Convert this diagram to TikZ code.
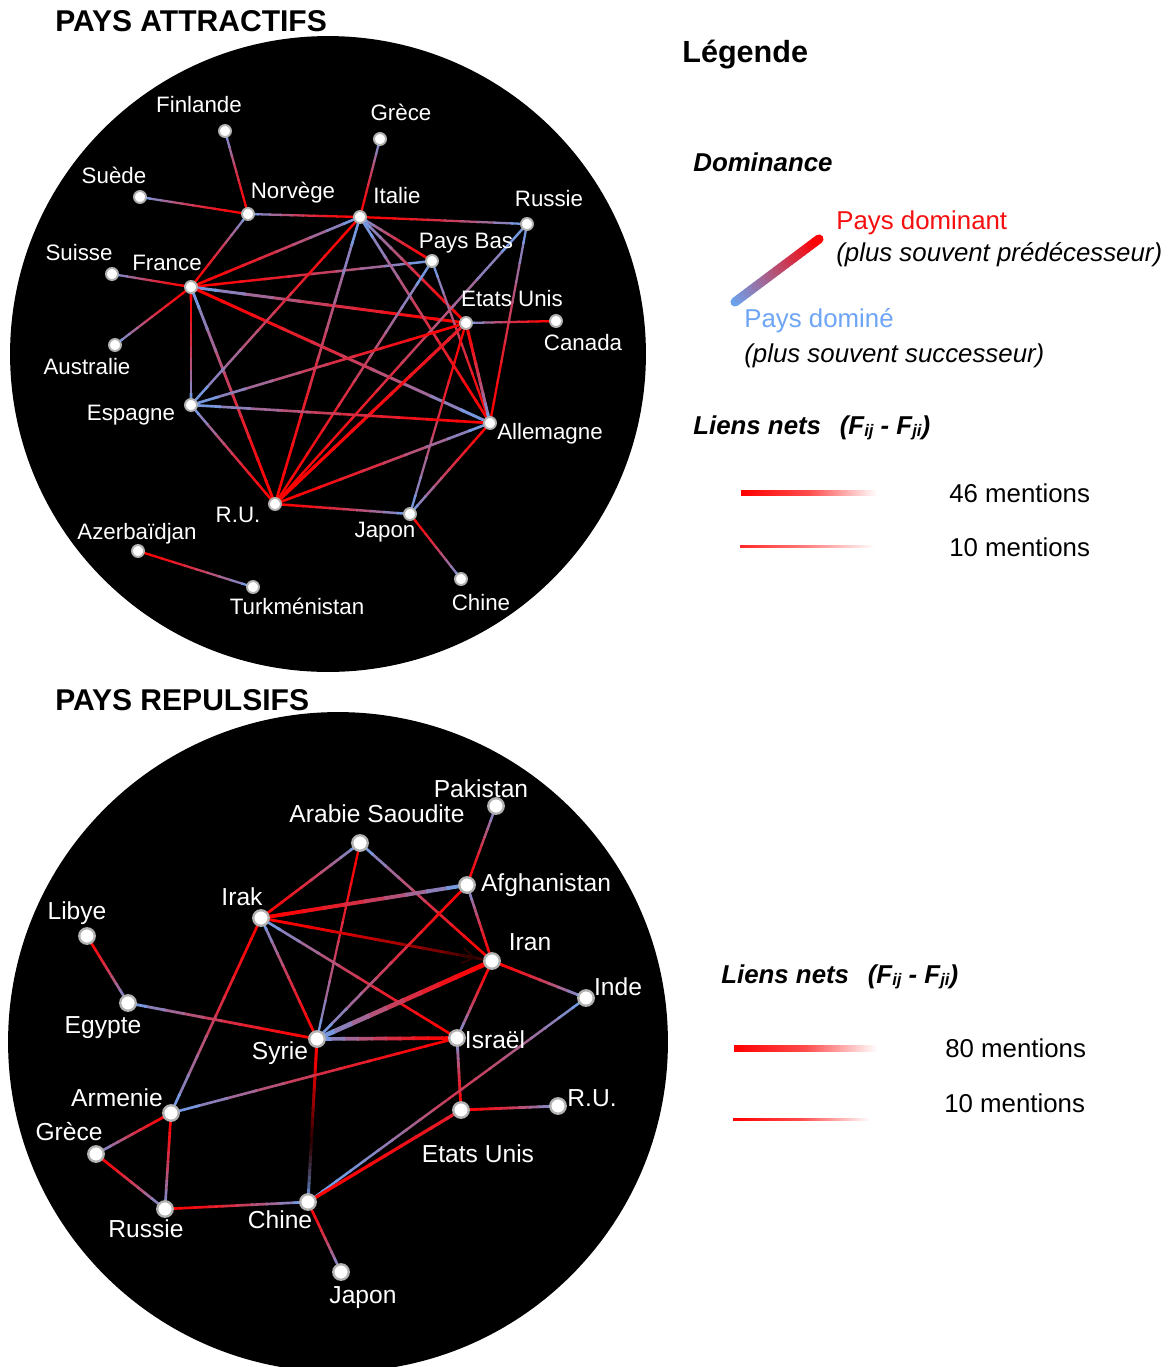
\documentclass[tikz,border=0pt]{standalone}
\usepackage{fontspec}
\setmainfont{Liberation Sans}
\usetikzlibrary{calc,arrows.meta}
\pgfdeclarelayer{back}
\pgfdeclarelayer{edges}
\pgfsetlayers{back,edges,main}
\definecolor{dom}{RGB}{255,0,0}
\definecolor{sub}{RGB}{106,164,240}
\definecolor{legred}{RGB}{245,15,15}
\definecolor{legblue}{RGB}{110,165,245}
\definecolor{darkend}{RGB}{45,0,0}
\colorlet{midrb}{dom!65!sub}
\colorlet{reddish}{dom!80!sub}
% gradient connector: from node #1 to node #2, between fractions #3 and #4, colour #5 -> #6, width #7
\newcommand\gpart[7]{%
  \foreach \k in {0,...,9}{%
    \pgfmathsetmacro\pa{#3+(#4-#3)*\k/10}%
    \pgfmathsetmacro\pb{min(#4,#3+(#4-#3)*(\k+1.15)/10)}%
    \pgfmathtruncatemacro\pc{100*((\k+0.5)/10)^1.6}%
    \draw[line width=#7, color=#6!\pc!#5] ($(#1)!\pa!(#2)$) -- ($(#1)!\pb!(#2)$);
  }}
% dominant node first (red end), dominated second (blue end)
\newcommand\gedge[3]{\gpart{#1}{#2}{0}{1}{dom}{sub}{#3}}
\tikzset{
  pta/.style={circle, fill=white, draw=gray!60, line width=1.1pt, minimum size=0.24cm, inner sep=0pt},
  ptr/.style={circle, fill=white, draw=gray!60, line width=1.3pt, minimum size=0.31cm, inner sep=0pt},
  laba/.style={text=white, font=\fontsize{12.7}{14}\selectfont, inner sep=0pt, anchor=base},
  labr/.style={text=white, font=\fontsize{14}{16}\selectfont, inner sep=0pt, anchor=base},
  ttl/.style={font=\fontsize{17.1}{19}\selectfont\bfseries, inner sep=0pt, anchor=base west},
  legt/.style={font=\fontsize{14.7}{17}\selectfont, inner sep=0pt, anchor=base west},
  legh/.style={font=\fontsize{14.7}{17}\selectfont\bfseries\itshape, inner sep=0pt, anchor=base west},
}
\newcommand\smallidx[1]{\raisebox{-0.2ex}{\fontsize{9.5}{10}\selectfont #1}}
\begin{document}
\begin{tikzpicture}[x=0.02cm,y=-0.02cm]
\useasboundingbox (0,0) rectangle (1168,1367);
\clip (0,0) rectangle (1168,1367);

% ---------- backgrounds ----------
\begin{pgfonlayer}{back}
  \fill[white] (0,0) rectangle (1168,1367);
  \fill[black] (328,354) circle[radius=6.36cm];
  \fill[black] (338,1042) circle[radius=6.6cm];
\end{pgfonlayer}

% ---------- titles ----------
\node[ttl] (t1) at (55,31) {PAYS ATTRACTIFS};
\node[ttl] (t2) at (55,710) {PAYS REPULSIFS};
\node[ttl, font=\fontsize{17.4}{19}\selectfont\bfseries] (tleg) at (682,62) {Légende};

% ---------- top network nodes ----------
\node[pta] (aFi) at (225,131) {};
\node[pta] (aGr) at (380,139) {};
\node[pta] (aSu) at (140,197) {};
\node[pta] (aNo) at (248,214) {};
\node[pta] (aIt) at (360,217) {};
\node[pta] (aRu) at (527,224) {};
\node[pta] (aSi) at (112,274) {};
\node[pta] (aFr) at (191,287) {};
\node[pta] (aPB) at (432,261) {};
\node[pta] (aEU) at (466,323) {};
\node[pta] (aCa) at (556,321) {};
\node[pta] (aAu) at (115,345) {};
\node[pta] (aEs) at (191,405) {};
\node[pta] (aAl) at (490,423) {};
\node[pta] (aRU) at (275,504) {};
\node[pta] (aJa) at (410,514) {};
\node[pta] (aAz) at (138,551) {};
\node[pta] (aTu) at (253,587) {};
\node[pta] (aCh) at (461,579) {};

\node[laba] (laFi) at (199,112) {Finlande};
\node[laba] (laGr) at (401,120) {Grèce};
\node[laba] (laSu) at (114,183) {Suède};
\node[laba] (laNo) at (293,198) {Norvège};
\node[laba] (laIt) at (397,203) {Italie};
\node[laba] (laRu) at (549,206) {Russie};
\node[laba] (laSi) at (79,260) {Suisse};
\node[laba] (laFr) at (167,270) {France};
\node[laba] (laPB) at (466,248) {Pays Bas};
\node[laba] (laEU) at (512,306) {Etats Unis};
\node[laba] (laCa) at (583,350) {Canada};
\node[laba] (laAu) at (87,374) {Australie};
\node[laba] (laEs) at (131,420) {Espagne};
\node[laba] (laAl) at (550,439) {Allemagne};
\node[laba] (laRU) at (238,522) {R.U.};
\node[laba] (laJa) at (385,537) {Japon};
\node[laba] (laAz) at (137,539) {Azerbaïdjan};
\node[laba] (laTu) at (297,614) {Turkménistan};
\node[laba] (laCh) at (481,610) {Chine};

% ---------- bottom network nodes ----------
\node[ptr] (rPk) at (496,806) {};
\node[ptr] (rAS) at (360,843) {};
\node[ptr] (rAf) at (467,885) {};
\node[ptr] (rIk) at (261,918) {};
\node[ptr] (rLi) at (87,936) {};
\node[ptr] (rIr) at (492,961) {};
\node[ptr] (rIn) at (586,998) {};
\node[ptr] (rEg) at (128,1003) {};
\node[ptr] (rSy) at (317,1039) {};
\node[ptr] (rIs) at (457,1038) {};
\node[ptr] (rAr) at (171,1113) {};
\node[ptr] (rRU) at (558,1106) {};
\node[ptr] (rEU) at (461,1110) {};
\node[ptr] (rGr) at (96,1154) {};
\node[ptr] (rRu) at (165,1209) {};
\node[ptr] (rCh) at (308,1202) {};
\node[ptr] (rJa) at (341,1272) {};

\node[labr] (lrPk) at (481,797) {Pakistan};
\node[labr] (lrAS) at (377,822) {Arabie Saoudite};
\node[labr] (lrAf) at (546,891) {Afghanistan};
\node[labr] (lrIk) at (242,905) {Irak};
\node[labr] (lrLi) at (77,919) {Libye};
\node[labr] (lrIr) at (530,950) {Iran};
\node[labr] (lrIn) at (618,995) {Inde};
\node[labr] (lrEg) at (103,1033) {Egypte};
\node[labr] (lrSy) at (280,1059) {Syrie};
\node[labr] (lrIs) at (495,1048) {Israël};
\node[labr] (lrAr) at (117,1106) {Armenie};
\node[labr] (lrRU) at (592,1106) {R.U.};
\node[labr] (lrEU) at (478,1162) {Etats Unis};
\node[labr] (lrGr) at (69,1140) {Grèce};
\node[labr] (lrRu) at (146,1237) {Russie};
\node[labr] (lrCh) at (280,1228) {Chine};
\node[labr] (lrJa) at (363,1303) {Japon};

% ---------- connectors ----------
\begin{pgfonlayer}{edges}
% top
\gedge{aNo}{aFi}{1.3pt}
\gedge{aNo}{aSu}{1.3pt}
\gedge{aIt}{aNo}{1.3pt}
\gedge{aFr}{aNo}{1.3pt}
\gedge{aIt}{aGr}{1.3pt}
\gedge{aIt}{aRu}{1.3pt}
\gedge{aFr}{aSi}{1.3pt}
\gedge{aFr}{aAu}{1.3pt}
\gedge{aFr}{aIt}{1.5pt}
\gedge{aFr}{aPB}{1.4pt}
\gedge{aEU}{aFr}{1.7pt}
\gedge{aFr}{aAl}{1.7pt}
\gedge{aFr}{aEs}{1.6pt}
\gedge{aRU}{aFr}{1.6pt}
\gedge{aPB}{aIt}{1.5pt}
\gedge{aEU}{aIt}{1.6pt}
\gedge{aAl}{aIt}{1.5pt}
\gedge{aRU}{aIt}{1.5pt}
\gedge{aIt}{aEs}{1.4pt}
\gedge{aAl}{aPB}{1.3pt}
\gedge{aRU}{aPB}{1.4pt}
\gedge{aAl}{aRu}{1.3pt}
\gedge{aRU}{aRu}{1.4pt}
\gedge{aCa}{aEU}{1.3pt}
\gedge{aEU}{aEs}{1.5pt}
\gpart{aRU}{aEU}{0}{1}{dom}{reddish}{1.8pt}
\gedge{aEU}{aAl}{1.7pt}
\gedge{aEU}{aJa}{1.3pt}
\gedge{aAl}{aEs}{1.5pt}
\gedge{aRU}{aEs}{1.4pt}
\gedge{aRU}{aAl}{1.5pt}
\gedge{aAl}{aJa}{1.4pt}
\gedge{aRU}{aJa}{1.4pt}
\gedge{aJa}{aCh}{1.3pt}
\gedge{aAz}{aTu}{1.3pt}
% bottom
\gedge{rAf}{rPk}{1.4pt}
\gedge{rIk}{rAS}{1.5pt}
\gedge{rAS}{rSy}{1.3pt}
\gedge{rIr}{rAS}{1.5pt}
\gedge{rIk}{rAf}{2.2pt}
\gpart{rIk}{rIr}{0}{1}{dom}{darkend}{1.6pt}
\draw[-{Straight Barb[length=7pt,width=9pt]}, line width=1pt, darkend] ($(rIk)!0.86!(rIr)$) -- ($(rIk)!0.93!(rIr)$);
\gedge{rSy}{rIk}{1.5pt}
\gedge{rIs}{rIk}{1.5pt}
\gedge{rIk}{rAr}{1.5pt}
\gedge{rIr}{rAf}{1.5pt}
\gedge{rAf}{rSy}{1.5pt}
\gedge{rIr}{rIn}{1.6pt}
\gedge{rIr}{rSy}{2.7pt}
\gedge{rIr}{rIs}{1.5pt}
\gedge{rLi}{rEg}{1.5pt}
\gedge{rSy}{rEg}{1.6pt}
\gedge{rIs}{rSy}{2.1pt}
\gpart{rSy}{rCh}{0}{0.6}{dom}{darkend}{1.7pt}
\gpart{rSy}{rCh}{0.6}{1}{darkend}{sub}{1.7pt}
\gedge{rIs}{rAr}{1.5pt}
\gedge{rEU}{rIs}{1.6pt}
\gpart{rCh}{rIn}{0}{0.5}{sub}{midrb}{1.4pt}
\gpart{rCh}{rIn}{0.5}{1}{midrb}{sub}{1.4pt}
\gedge{rAr}{rGr}{1.5pt}
\gedge{rAr}{rRu}{1.5pt}
\gedge{rGr}{rRu}{1.5pt}
\gedge{rRu}{rCh}{1.5pt}
\gedge{rCh}{rJa}{1.5pt}
\gedge{rEU}{rRU}{1.6pt}
\gpart{rCh}{rEU}{0}{1}{dom}{reddish}{1.8pt}
\end{pgfonlayer}

% ---------- legend (top) ----------
\node[legh] (ldom) at (693,171) {Dominance};
\coordinate (gsub) at (735,302);
\coordinate (gdom) at (819,239);
\foreach \k in {0,...,19}{%
  \pgfmathsetmacro\pa{\k/20}%
  \pgfmathsetmacro\pb{(\k+1)/20}%
  \pgfmathtruncatemacro\pc{5*\k+2}%
  \draw[line width=5.2pt, line cap=round, color=dom!\pc!sub] ($(gsub)!\pa!(gdom)$) -- ($(gsub)!\pb!(gdom)$);
}
\node[legt, text=legred] (ldn) at (836,229) {Pays dominant};
\node[legt] (ldn2) at (836,261) {\itshape (plus souvent prédécesseur)};
\node[legt, text=legblue] (lde) at (744,327) {Pays dominé};
\node[legt] (lde2) at (744,362) {\itshape (plus souvent successeur)};
\node[legh] (lln1) at (693,434) {Liens nets\hspace{0.45em} (F\smallidx{ij} - F\smallidx{ji})};
\shade[left color=dom, right color=white, middle color=dom!70!white] (741,490) rectangle (877,495);
\node[legt] (l46) at (949,502) {46 mentions};
\shade[left color=dom!85!white, right color=white, middle color=dom!50!white] (740,545.8) rectangle (875,547.2);
\node[legt] (l10a) at (949,556) {10 mentions};

% ---------- legend (bottom) ----------
\node[legh] (lln2) at (721,983) {Liens nets\hspace{0.45em} (F\smallidx{ij} - F\smallidx{ji})};
\shade[left color=dom, right color=white, middle color=dom!70!white] (734,1045.5) rectangle (877,1051.5);
\node[legt] (l80) at (945,1057) {80 mentions};
\shade[left color=dom, right color=white, middle color=dom!70!white] (733,1118) rectangle (870,1120.5);
\node[legt] (l10b) at (944,1112) {10 mentions};
\end{tikzpicture}
\end{document}
